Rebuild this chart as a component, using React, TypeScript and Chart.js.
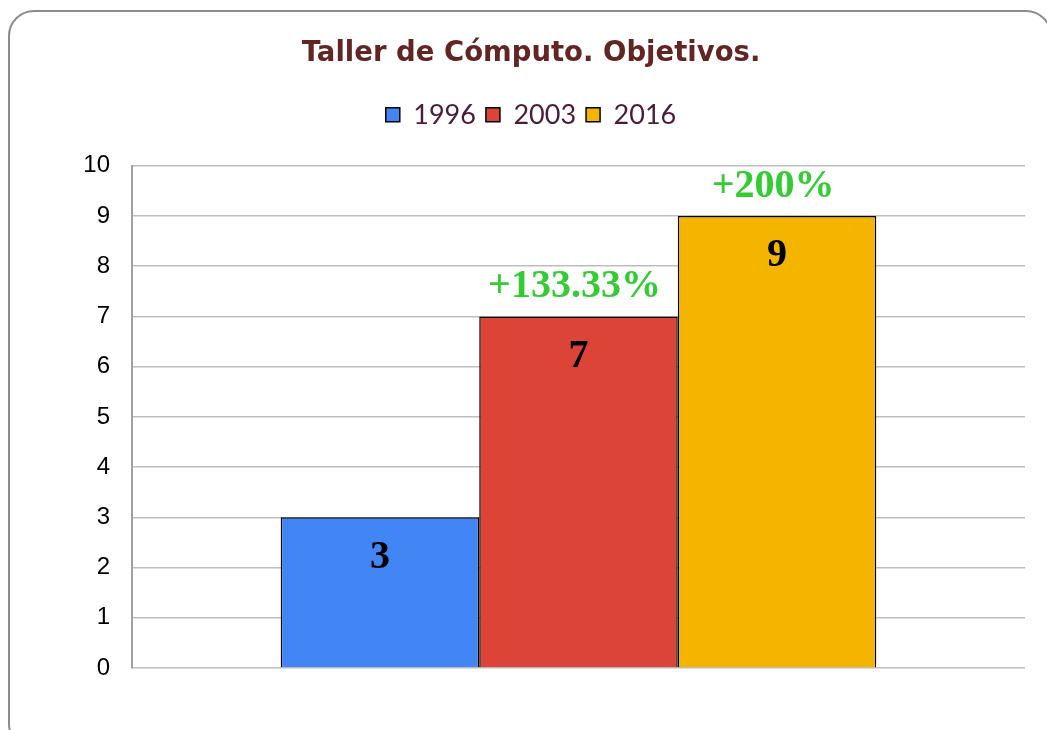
import React, { useEffect, useRef } from "react";
import { Chart, registerables } from "chart.js";

Chart.register(...registerables);

const categories = [""];
const seriesLabels = ["1996", "2003", "2016"];
const seriesValues = [[3], [7], [9]];
const seriesColors = ["#4285f4", "#db4437", "#f4b400"];
const growthLabels = ["", "+133.33%", "+200%"];
const yTicks = { min: 0, max: 10, step: 1 };

const labelPlugin = {
  id: "barLabels",
  afterDatasetsDraw(chart: any) {
    const ctx = chart.ctx;
    ctx.save();
    chart.data.datasets.forEach((ds: any, i: number) => {
      const meta = chart.getDatasetMeta(i);
      meta.data.forEach((bar: any, j: number) => {
        const v = ds.data[j];
        ctx.textAlign = "center";
        ctx.fillStyle = "#000000";
        ctx.font = "bold 40px 'Liberation Serif', serif";
        ctx.textBaseline = "middle";
        ctx.fillText(String(v), bar.x, bar.y + 40);
        const g = growthLabels[i];
        if (g) {
          ctx.fillStyle = "#33cc33";
          ctx.font = "bold 40px 'Liberation Serif', serif";
          ctx.textBaseline = "alphabetic";
          ctx.fillText(g, bar.x - 4, bar.y - 19);
        }
      });
    });
    ctx.restore();
  },
};

const legendSpacer = {
  id: "legendSpacer",
  beforeInit(chart: any) {
    const lg = chart.legend;
    if (!lg) return;
    const fit = lg.fit;
    lg.fit = function () {
      fit.call(this);
      this.height += 27.5;
    };
  },
};

export default function App() {
  const ref = useRef<HTMLCanvasElement>(null);
  useEffect(() => {
    if (!ref.current) return;
    const chart = new Chart(ref.current, {
      type: "bar",
      data: {
        labels: categories,
        datasets: seriesLabels.map((l, i) => ({
          label: l,
          data: seriesValues[i],
          backgroundColor: seriesColors[i],
          borderColor: "#000000",
          borderWidth: 1.5,
          categoryPercentage: 0.667,
          barPercentage: 1,
        })),
      },
      options: {
        responsive: false,
        animation: false,
        layout: { padding: { left: 0, right: 0, top: 0, bottom: 62 } },
        plugins: {
          tooltip: { enabled: false },
          title: {
            display: true,
            text: "Taller de Cómputo. Objetivos.",
            color: "#632523",
            font: { family: "'DejaVu Sans'", size: 27.5, weight: "bold" },
            padding: { top: 37.5, bottom: 20.8 },
          },
          legend: {
            display: true,
            labels: {
              color: "#4a1b3b",
              font: { family: "Lato", size: 27 },
              boxWidth: 14,
              boxHeight: 14,
              padding: 10,
            },
          },
        },
        scales: {
          x: { display: false },
          y: {
            min: yTicks.min,
            max: yTicks.max,
            afterFit(scale: any) {
              scale.width = 124;
            },
            ticks: {
              stepSize: yTicks.step,
              color: "#000000",
              font: { family: "'Liberation Sans'", size: 24 },
              padding: 22,
            },
            grid: { color: "#bdbdbd", lineWidth: 1.5, drawTicks: false },
            border: { display: true, color: "#a0a0a0", width: 2 },
          },
          yRight: {
            position: "right",
            min: yTicks.min,
            max: yTicks.max,
            afterFit(scale: any) {
              scale.width = 29;
            },
            ticks: { display: false },
            grid: { display: false, drawOnChartArea: false },
            border: { display: false },
          },
        },
      },
      plugins: [labelPlugin, legendSpacer],
    });
    return () => chart.destroy();
  }, []);

  return (
    <div
      style={{
        position: "fixed",
        left: 0,
        top: 0,
        width: 1047,
        height: 730,
        overflow: "hidden",
        background: "#ffffff",
      }}
    >
      <div
        style={{
          position: "absolute",
          left: 8,
          top: 10,
          width: 1044,
          height: 740,
          border: "2px solid #8c8c8c",
          borderRadius: 26,
          boxSizing: "border-box",
        }}
      />
      <canvas
        ref={ref}
        width={1046}
        height={730}
        style={{ position: "absolute", left: 8, top: 0 }}
      />
    </div>
  );
}
